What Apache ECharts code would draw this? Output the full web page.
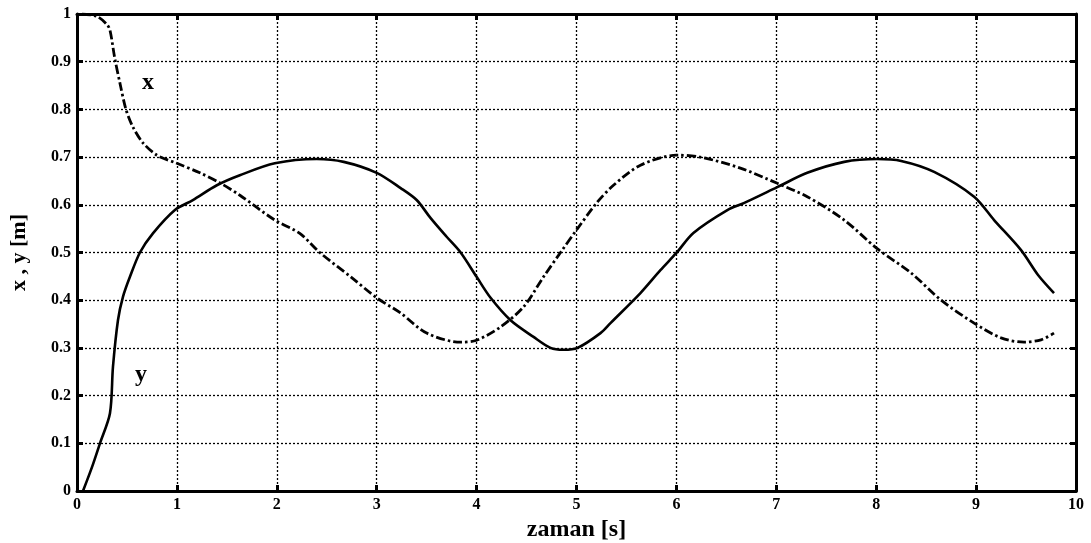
<!DOCTYPE html>
<html>
<head>
<meta charset="utf-8">
<script src="https://cdn.jsdelivr.net/npm/echarts@6/dist/echarts.min.js"></script>
<style>html,body{margin:0;padding:0;background:#fff;}#c{width:1091px;height:543px;}</style>
</head>
<body>
<div id="c"></div>
<script>
// time samples and values of x curve (dash-dot)
var xT = [0.05,0.2,0.3,0.33,0.38,0.43,0.49,0.56,0.66,0.8,1.0,1.23,1.43,1.63,1.98,2.23,2.43,2.74,3.0,3.24,3.5,3.84,4.0,4.24,4.47,4.67,4.84,5.01,5.21,5.37,5.64,6.0,6.24,6.64,7.01,7.31,7.68,8.01,8.35,8.65,8.98,9.25,9.48,9.65,9.78];
var xV = [1.0,0.995,0.978,0.966,0.905,0.855,0.80,0.763,0.73,0.704,0.687,0.667,0.646,0.62,0.568,0.54,0.50,0.449,0.405,0.373,0.331,0.312,0.316,0.344,0.386,0.449,0.50,0.55,0.606,0.641,0.683,0.704,0.70,0.677,0.645,0.617,0.568,0.508,0.457,0.40,0.352,0.321,0.312,0.317,0.331];
// time samples and values of y curve (solid)
var yT = [0.06,0.15,0.23,0.33,0.36,0.41,0.46,0.53,0.63,0.76,0.98,1.16,1.40,1.63,1.98,2.4,2.67,3.0,3.24,3.4,3.54,3.7,3.84,4.0,4.14,4.34,4.57,4.74,4.87,5.01,5.24,5.34,5.64,5.84,6.0,6.17,6.51,6.68,7.01,7.31,7.68,8.01,8.25,8.58,8.98,9.18,9.45,9.62,9.78];
var yV = [0.0,0.05,0.10,0.163,0.26,0.358,0.407,0.449,0.50,0.54,0.589,0.61,0.641,0.662,0.687,0.696,0.69,0.667,0.635,0.61,0.572,0.533,0.50,0.449,0.405,0.358,0.323,0.30,0.296,0.30,0.331,0.352,0.415,0.463,0.499,0.541,0.589,0.604,0.637,0.667,0.69,0.696,0.692,0.669,0.617,0.568,0.505,0.453,0.415];
// tick labels
var xTicks = ['0','1','2','3','4','5','6','7','8','9','10'];
var yTicks = ['0','0.1','0.2','0.3','0.4','0.5','0.6','0.7','0.8','0.9','1'];
// curve annotations
var notes = [[0.71, 0.855, 'x'], [0.64, 0.243, 'y']];

function pairs(t, v){ return t.map(function(tt,i){ return [tt, v[i]]; }); }
var FONT = '"Liberation Serif", "Times New Roman", serif';
var chart = echarts.init(document.getElementById('c'), null, {renderer:'canvas'});
var tickStyle = {show:true, inside:true, length:6, lineStyle:{color:'#000', width:3}};
chart.setOption({
  animation:false,
  backgroundColor:'#fff',
  grid:{left:77, right:15, top:14, bottom:52, containLabel:false, outerBoundsMode:'none'},
  xAxis:[{
    type:'value', min:0, max:10, interval:1, position:'bottom',
    name:'zaman [s]', nameLocation:'middle', nameGap:22,
    nameTextStyle:{fontFamily:FONT, fontWeight:'bold', fontSize:24, color:'#000'},
    axisLine:{show:true, onZero:false, lineStyle:{color:'#000', width:3}},
    axisTick:tickStyle,
    axisLabel:{fontFamily:FONT, fontWeight:'bold', fontSize:16, color:'#000', margin:6,
      formatter:function(v){ return xTicks[Math.round(v)]; }},
    splitLine:{show:true, lineStyle:{color:'#000', width:1.3, type:[2,2]}}
  },{
    type:'value', min:0, max:10, interval:1, position:'top',
    axisLine:{show:true, onZero:false, lineStyle:{color:'#000', width:3}},
    axisTick:tickStyle, axisLabel:{show:false}, splitLine:{show:false}
  }],
  yAxis:[{
    type:'value', min:0, max:1, interval:0.1, position:'left',
    name:'x , y [m]', nameLocation:'middle', nameGap:47,
    nameTextStyle:{fontFamily:FONT, fontWeight:'bold', fontSize:22, color:'#000'},
    axisLine:{show:true, onZero:false, lineStyle:{color:'#000', width:3}},
    axisTick:tickStyle,
    axisLabel:{fontFamily:FONT, fontWeight:'bold', fontSize:16, color:'#000', margin:6,
      formatter:function(v){ return yTicks[Math.round(v*10)]; }},
    splitLine:{show:true, lineStyle:{color:'#000', width:1.3, type:[2,2]}}
  },{
    type:'value', min:0, max:1, interval:0.1, position:'right',
    axisLine:{show:true, onZero:false, lineStyle:{color:'#000', width:3}},
    axisTick:tickStyle, axisLabel:{show:false}, splitLine:{show:false}
  }],
  series:[{
    type:'line', name:'x', data:pairs(xT, xV), smooth:0.3, showSymbol:false,
    lineStyle:{color:'#000', width:2.8, type:[9,3,2.5,3]}
  },{
    type:'line', name:'y', data:pairs(yT, yV), smooth:0.3, showSymbol:false,
    lineStyle:{color:'#000', width:2.6, type:'solid'}
  },{
    type:'scatter', data:notes.map(function(n){ return {value:[n[0], n[1]], name:n[2]}; }),
    symbolSize:0, silent:true, itemStyle:{opacity:1, color:'#000'},
    label:{show:true, position:'inside', formatter:'{b}', fontFamily:FONT, fontWeight:'bold', fontSize:24, color:'#000', opacity:1}
  }]
});
</script>
</body>
</html>
